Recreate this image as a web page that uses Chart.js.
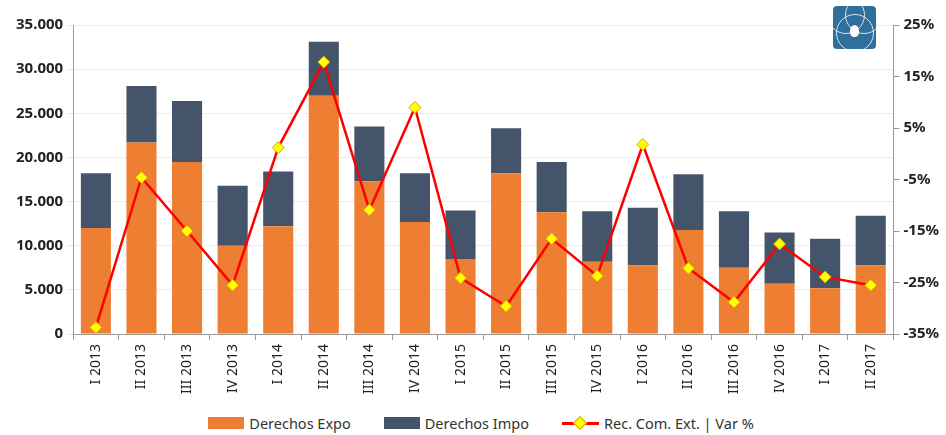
<!DOCTYPE html>
<html lang="es">
<head>
  <meta charset="UTF-8">
  <title>Derechos de comercio exterior</title>
  <style>
    body { margin: 0; background: #fff; font-family: "Noto Sans", sans-serif; }
    #wrap { position: relative; width: 946px; height: 435px; }
    #chart-box { position: absolute; left: 0; top: 0; width: 946px; height: 398px; }
    #legend { position: absolute; left: 0; top: 413px; width: 946px; display: flex; justify-content: center; gap: 33px; font-size: 14.5px; color: #333; padding-left: 16px; box-sizing: border-box; }
    .item { display: flex; align-items: center; gap: 5px; }
    .box { width: 36px; height: 12px; display: inline-block; }
    .line { position: relative; width: 37px; height: 3px; background: #ff0000; display: inline-block; }
    .line::after { content: ""; position: absolute; left: 13px; top: -4px; width: 8px; height: 8px; background: #ffff00; border: 1px solid #e0a000; transform: rotate(45deg); }
    #logo { position: absolute; left: 833px; top: 6px; width: 43px; height: 43px; border-radius: 4px; background: #2f6f9b; overflow: hidden; }
    #logo span { position: absolute; border: 1.5px solid rgba(255,255,255,0.8); border-radius: 50%; }
    #logo i { position: absolute; left: 17px; top: 19px; width: 9px; height: 12px; background: #fff; border-radius: 50% 50% 40% 40%; }
  </style>
</head>
<body>
  <div id="wrap">
    <div id="chart-box"><canvas id="mainChart"></canvas></div>
    <div id="logo">
      <span style="left:-6px;top:-10px;width:36px;height:36px"></span>
      <span style="left:12px;top:-10px;width:36px;height:36px"></span>
      <span style="left:3px;top:8px;width:36px;height:36px"></span>
      <i></i>
    </div>
    <div id="legend">
      <div class="item"><span class="box" style="background:#ee7e32"></span>Derechos Expo</div>
      <div class="item"><span class="box" style="background:#44546a"></span>Derechos Impo</div>
      <div class="item"><span class="line"></span>Rec. Com. Ext. | Var %</div>
    </div>
  </div>

  <script src="https://cdn.jsdelivr.net/npm/chart.js"></script>
  <script>
    const quarters = ['I 2013', 'II 2013', 'III 2013', 'IV 2013', 'I 2014', 'II 2014', 'III 2014', 'IV 2014',
      'I 2015', 'II 2015', 'III 2015', 'IV 2015', 'I 2016', 'II 2016', 'III 2016', 'IV 2016', 'I 2017', 'II 2017'];
    const expo = [12000, 21700, 19500, 10000, 12200, 27000, 17300, 12700, 8500, 18200, 13800, 8200, 7800, 11800, 7500, 5700, 5200, 7800];
    const impo = [6200, 6400, 6900, 6800, 6200, 6100, 6200, 5500, 5500, 5100, 5700, 5700, 6500, 6300, 6400, 5800, 5600, 5600];
    const varPct = [-33.7, -4.6, -15.0, -25.5, 1.2, 17.8, -10.9, 9.0, -24.1, -29.6, -16.5, -23.7, 1.8, -22.2, -28.8, -17.5, -23.9, -25.5];
    const leftTicks = [0, 5000, 10000, 15000, 20000, 25000, 30000, 35000];
    const rightTicks = [-35, -25, -15, -5, 5, 15, 25];

    const tickFont = { family: '"Noto Sans", sans-serif', size: 15, weight: 'bold' };

    new Chart(document.getElementById('mainChart'), {
      type: 'bar',
      data: {
        labels: quarters,
        datasets: [
          {
            type: 'line',
            label: 'Rec. Com. Ext. | Var %',
            data: varPct,
            yAxisID: 'y1',
            borderColor: '#ff0000',
            borderWidth: 2.5,
            pointStyle: 'rectRot',
            pointRadius: 6,
            pointBackgroundColor: '#ffff00',
            pointBorderColor: '#e0a000',
            pointBorderWidth: 1,
            tension: 0,
            order: 0
          },
          {
            label: 'Derechos Expo',
            data: expo,
            backgroundColor: '#ee7e32',
            yAxisID: 'y',
            stack: 's',
            order: 1
          },
          {
            label: 'Derechos Impo',
            data: impo,
            backgroundColor: '#44546a',
            yAxisID: 'y',
            stack: 's',
            order: 1
          }
        ]
      },
      options: {
        responsive: true,
        maintainAspectRatio: false,
        animation: false,
        layout: { padding: { left: 12, right: 3, top: 25, bottom: 0 } },
        datasets: { bar: { categoryPercentage: 1, barPercentage: 0.66 } },
        plugins: { legend: { display: false }, tooltip: { enabled: false } },
        scales: {
          x: {
            stacked: true,
            grid: { display: true, drawOnChartArea: false, offset: true, tickLength: 6, color: '#999' },
            border: { color: '#999' },
            ticks: { maxRotation: 90, minRotation: 90, color: '#222', padding: 4, font: { family: '"Noto Sans", sans-serif', size: 14 } }
          },
          y: {
            stacked: true,
            min: 0,
            max: 35000,
            afterBuildTicks: axis => { axis.ticks = leftTicks.map(v => ({ value: v })); },
            grid: { color: '#ececec', tickLength: 6 },
            border: { color: '#999' },
            ticks: {
              color: '#222',
              font: tickFont,
              padding: 4,
              callback: v => v.toString().replace(/\B(?=(\d{3})+(?!\d))/g, '.')
            }
          },
          y1: {
            position: 'right',
            min: -35,
            max: 25,
            afterBuildTicks: axis => { axis.ticks = rightTicks.map(v => ({ value: v })); },
            grid: { drawOnChartArea: false, tickLength: 6, color: '#999' },
            border: { color: '#999' },
            ticks: { color: '#222', font: tickFont, padding: 4, callback: v => v + '%' }
          }
        }
      }
    });
  </script>
</body>
</html>
